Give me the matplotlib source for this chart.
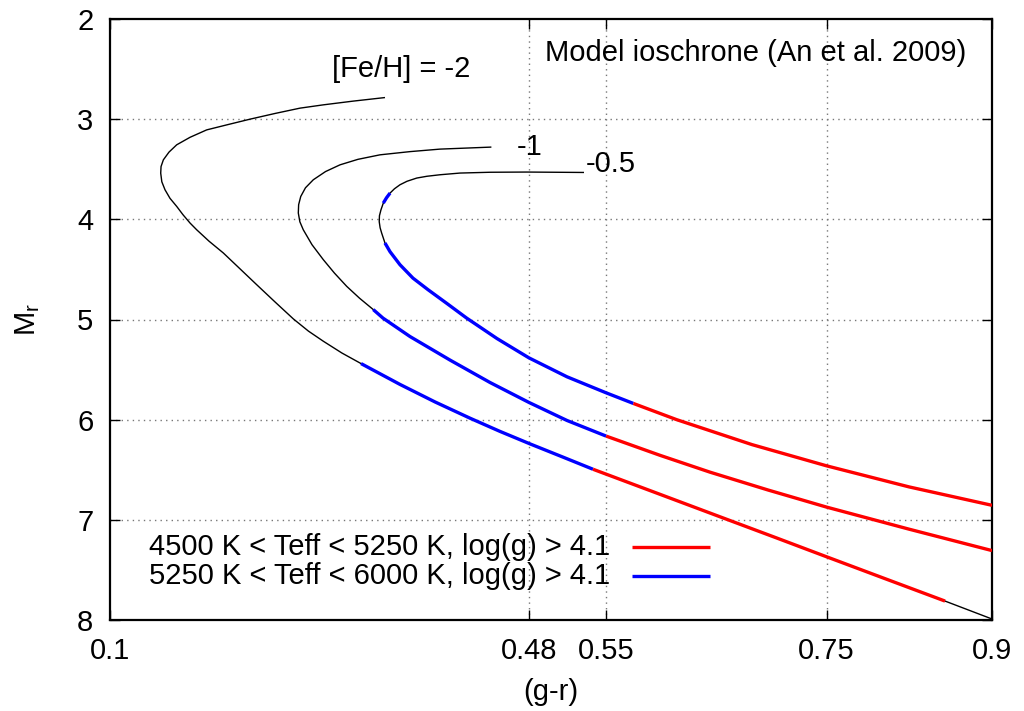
import matplotlib
matplotlib.use("Agg")
import matplotlib.pyplot as plt

plt.rcParams['font.family'] = ['Liberation Sans', 'DejaVu Sans']
plt.rcParams['mathtext.fontset'] = 'custom'
plt.rcParams['mathtext.rm'] = 'Liberation Sans'
plt.rcParams['mathtext.it'] = 'Liberation Sans'

# ---------------- data ----------------
# [Fe/H] = -2 isochrone
m2_black_x = [0.3488, 0.3204, 0.2935, 0.2723, 0.2497, 0.2270, 0.2070, 0.1877, 0.1726,
              0.1605, 0.1535, 0.1484, 0.1463, 0.1460, 0.1470, 0.1499, 0.1544, 0.1605,
              0.1662, 0.1726, 0.1786, 0.1898, 0.2028, 0.2179, 0.2330, 0.2497, 0.2663,
              0.2800, 0.2935, 0.3104, 0.3277]
m2_black_y = [2.785, 2.820, 2.857, 2.890, 2.943, 3.000, 3.054, 3.107, 3.181,
              3.256, 3.329, 3.406, 3.473, 3.539, 3.625, 3.705, 3.790, 3.871,
              3.954, 4.037, 4.104, 4.218, 4.336, 4.494, 4.652, 4.825, 4.994,
              5.116, 5.217, 5.335, 5.440]
m2_blue_x = [0.3277, 0.3630, 0.3948, 0.4265, 0.4537, 0.4810, 0.5100, 0.5381]
m2_blue_y = [5.440, 5.648, 5.823, 5.985, 6.117, 6.242, 6.370, 6.495]
m2_red_x = [0.5381, 0.6107, 0.6563, 0.7032, 0.7500, 0.8029, 0.8574]
m2_red_y = [6.495, 6.794, 6.982, 7.175, 7.369, 7.587, 7.811]
m2_tail_x = [0.8574, 0.9]
m2_tail_y = [7.811, 7.99]

# [Fe/H] = -1 isochrone
m1_black_x = [0.4453, 0.3993, 0.3721, 0.3449, 0.3249, 0.3086, 0.2955, 0.2844, 0.2773,
              0.2730, 0.2711, 0.2708, 0.2722, 0.2753, 0.2832, 0.2935, 0.3036, 0.3147,
              0.3263, 0.3388]
m1_black_y = [3.279, 3.299, 3.324, 3.356, 3.401, 3.456, 3.523, 3.605, 3.685,
              3.772, 3.854, 3.937, 4.024, 4.104, 4.253, 4.403, 4.537, 4.669,
              4.787, 4.901]
m1_blue_x = [0.3388, 0.3476, 0.3721, 0.4084, 0.4447, 0.4800, 0.5145, 0.5500]
m1_blue_y = [4.901, 4.986, 5.170, 5.405, 5.629, 5.828, 6.008, 6.164]
m1_red_x = [0.5500, 0.5989, 0.6442, 0.6968, 0.7500, 0.8247, 0.9]
m1_red_y = [6.164, 6.356, 6.524, 6.702, 6.873, 7.093, 7.307]

# [Fe/H] = -0.5 isochrone
m05_black_x = [0.5293, 0.4780, 0.4447, 0.4175, 0.3993, 0.3875, 0.3782, 0.3694,
               0.3630, 0.3580, 0.3540]
m05_black_y = [3.532, 3.528, 3.530, 3.538, 3.555, 3.570, 3.588, 3.620,
               3.655, 3.695, 3.738]
m05_blue1_x = [0.3540, 0.3508, 0.3479]
m05_blue1_y = [3.738, 3.785, 3.838]
m05_black2_x = [0.3479, 0.3458, 0.3444, 0.3442, 0.3450, 0.3464, 0.3494]
m05_black2_y = [3.838, 3.904, 3.964, 4.024, 4.084, 4.137, 4.236]
m05_blue_x = [0.3494, 0.3540, 0.3630, 0.3748, 0.3884, 0.4057, 0.4235, 0.4510,
              0.4800, 0.5145, 0.5500, 0.5747]
m05_blue_y = [4.236, 4.323, 4.453, 4.587, 4.702, 4.841, 4.986, 5.190,
              5.383, 5.572, 5.732, 5.838]
m05_red_x = [0.5747, 0.6140, 0.6823, 0.7500, 0.8247, 0.9]
m05_red_y = [5.838, 6.000, 6.249, 6.461, 6.671, 6.855]

x_ticks = [0.1, 0.48, 0.55, 0.75, 0.9]
x_tick_labels = ['0.1', '0.48', '0.55', '0.75', '0.9']
y_ticks = [2, 3, 4, 5, 6, 7, 8]
legend_labels = ['4500 K < Teff < 5250 K, log(g) > 4.1',
                 '5250 K < Teff < 6000 K, log(g) > 4.1']

RED = '#ff0000'
BLUE = '#0000ff'
FS = 21

# ---------------- figure ----------------
fig = plt.figure(figsize=(10.24, 7.11), dpi=100)
ax = fig.add_axes([110 / 1024, 91 / 711, 882 / 1024, 601 / 711])

ax.set_xlim(0.1, 0.9)
ax.set_ylim(8, 2)

thin = 1.0
thick = 2.4
for xs, ys in [(m2_black_x, m2_black_y), (m2_tail_x, m2_tail_y),
               (m1_black_x, m1_black_y),
               (m05_black_x, m05_black_y), (m05_black2_x, m05_black2_y)]:
    ax.plot(xs, ys, color='black', lw=thin, solid_joinstyle='round', zorder=3)
for xs, ys in [(m2_blue_x, m2_blue_y), (m1_blue_x, m1_blue_y),
               (m05_blue1_x, m05_blue1_y), (m05_blue_x, m05_blue_y)]:
    ax.plot(xs, ys, color=BLUE, lw=thick, solid_capstyle='butt',
            solid_joinstyle='round', zorder=4)
for xs, ys in [(m2_red_x, m2_red_y), (m1_red_x, m1_red_y), (m05_red_x, m05_red_y)]:
    ax.plot(xs, ys, color=RED, lw=thick, solid_capstyle='butt',
            solid_joinstyle='round', zorder=4)

# grid
for gx in [0.48, 0.55, 0.75]:
    ax.axvline(gx, color='#777777', lw=1.0, linestyle=(0, (1, 3)), zorder=1)
for gy in [3, 4, 5, 6, 7]:
    ax.axhline(gy, color='#777777', lw=1.0, linestyle=(0, (1, 3)), zorder=1)

ax.set_xticks(x_ticks)
ax.set_xticklabels(x_tick_labels)
ax.set_yticks(y_ticks)
ax.tick_params(direction='in', length=7.5, width=1.0, top=True, right=True,
               labelsize=FS, pad=12)
ax.minorticks_off()
for s in ax.spines.values():
    s.set_linewidth(1.6)

ax.set_xlabel('(g-r)', fontsize=FS, va='top')
ax.xaxis.set_label_coords(0.5, -0.097)
ax.set_ylabel(r'M$_{\mathregular{r}}$', fontsize=FS)
ax.yaxis.set_label_coords(-0.077, 0.5)

# annotations
ax.text(0.3011, 2.581, '[Fe/H] = -2', fontsize=FS, ha='left', va='baseline')
ax.text(0.4689, 3.356, '-1', fontsize=FS, ha='left', va='baseline')
ax.text(0.5317, 3.525, '-0.5', fontsize=FS, ha='left', va='baseline')
ax.text(0.877, 2.419, 'Model ioschrone (An et al. 2009)', fontsize=FS,
        ha='right', va='baseline')

# manual key (gnuplot style: text right-aligned, sample line on the right)
key_rows = [(legend_labels[0], RED, (620 - 547) / 601),
            (legend_labels[1], BLUE, (620 - 576) / 601)]
tx = (610 - 110) / 882
lx0 = (632 - 110) / 882
lx1 = (710 - 110) / 882
for lab, col, yy in key_rows:
    ax.text(tx, yy, lab, fontsize=FS, ha='right', va='center',
            transform=ax.transAxes)
    ax.plot([lx0, lx1], [yy, yy], color=col, lw=thick, transform=ax.transAxes,
            solid_capstyle='butt')

fig.savefig('out.png', dpi=100)
